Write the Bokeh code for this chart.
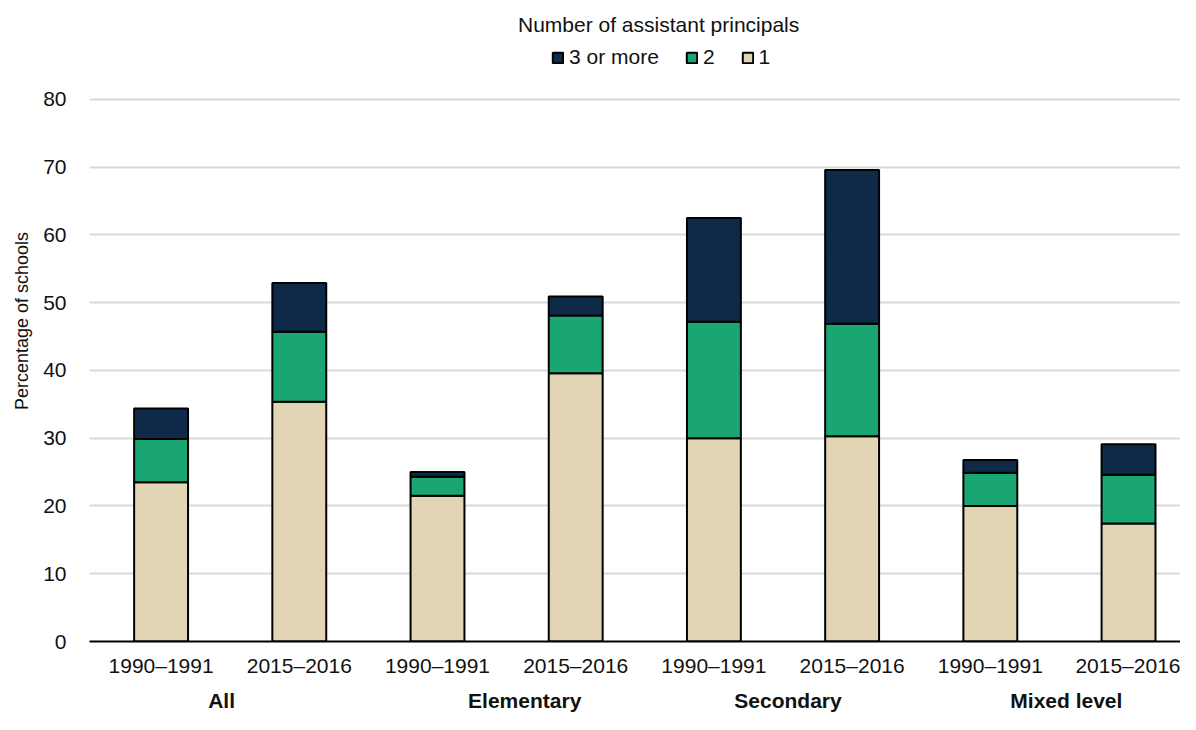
from bokeh.plotting import figure
from bokeh.models import (Range1d, FixedTicker, Legend, LegendItem, Label,
                          LinearAxis, ColumnDataSource, Spacer)
from bokeh.layouts import row
from bokeh.embed import file_html
from bokeh.resources import INLINE

# ---- data ----
periods = ["1990–1991", "2015–2016"] * 4
groups = ["All", "Elementary", "Secondary", "Mixed level"]
series_names = ["1", "2", "3 or more"]
one = [23.5, 35.4, 21.5, 39.6, 30.0, 30.3, 20.0, 17.4]
two = [6.4, 10.3, 2.8, 8.5, 17.2, 16.6, 4.9, 7.2]
three = [4.5, 7.2, 0.7, 2.8, 15.3, 22.7, 1.9, 4.5]
y_ticks = [0, 10, 20, 30, 40, 50, 60, 70, 80]
legend_title = "Number of assistant principals"

# ---- styling / layout constants ----
colors = {"1": "#e1d5b4", "2": "#1aa673", "3 or more": "#0f2a48"}
FONT = "'Liberation Sans', Arial, sans-serif"
TXT = "#111111"
PAD_LEFT = 9
W, H = 1180 - PAD_LEFT, 714
FB_PAGE = 641               # expected frame bottom on the page
Y_TOP = 94.6
PX_PER_UNIT = (FB_PAGE - 1) / Y_TOP
TITLE_Y = (FB_PAGE - 25) / PX_PER_UNIT
GROUP_LABEL_X = [0.438, 2.631, 4.536, 6.55]

xs = list(range(len(periods)))
source = ColumnDataSource(dict(x=xs, s1=one, s2=two, s3=three))

p = figure(width=W, height=H, output_backend="svg", toolbar_location=None,
           x_range=Range1d(-0.518, 7.376), y_range=Range1d(0, Y_TOP),
           min_border_left=0, min_border_right=0, min_border_top=0,
           min_border_bottom=0)

renderers = p.vbar_stack(["s1", "s2", "s3"], x="x", width=0.39, source=source,
                         fill_color=[colors[n] for n in series_names],
                         line_color="black", line_width=2)

p.add_layout(Label(x=3.6, y=TITLE_Y,
                   text=legend_title, text_align="center", text_baseline="alphabetic",
                   text_font=FONT, text_font_size="21px", text_color=TXT))

legend = Legend(items=[LegendItem(label="3 or more", renderers=[renderers[2]]),
                       LegendItem(label="2", renderers=[renderers[1]]),
                       LegendItem(label="1", renderers=[renderers[0]])],
                orientation="horizontal", location=(462, 572),
                glyph_width=13, glyph_height=13, spacing=26,
                label_text_font=FONT, label_text_font_size="21px", label_text_color=TXT,
                label_standoff=5, label_width=0, label_height=24, padding=0, margin=0,
                border_line_color=None, background_fill_alpha=0)
p.add_layout(legend)

p.outline_line_color = None
p.xgrid.grid_line_color = None
p.ygrid.grid_line_color = "#d9d9d9"
p.ygrid.grid_line_width = 2

# y axis
p.yaxis.ticker = FixedTicker(ticks=y_ticks)
p.yaxis.axis_line_color = None
p.yaxis.major_tick_line_color = None
p.yaxis.minor_tick_line_color = None
p.yaxis.major_tick_out = 0
p.yaxis.major_label_text_font = FONT
p.yaxis.major_label_text_font_size = "21px"
p.yaxis.major_label_text_color = TXT
p.yaxis.major_label_standoff = 23
p.yaxis.axis_label = "Percentage of schools"
p.yaxis.axis_label_text_font = FONT
p.yaxis.axis_label_text_font_size = "18px"
p.yaxis.axis_label_text_font_style = "normal"
p.yaxis.axis_label_text_color = TXT
p.yaxis.axis_label_standoff = 8

# x axis: periods
xa = p.xaxis[0]
xa.ticker = FixedTicker(ticks=xs)
xa.major_label_overrides = {x: lab for x, lab in zip(xs, periods)}
xa.axis_line_color = "black"
xa.axis_line_width = 2
xa.major_tick_line_color = None
xa.minor_tick_line_color = None
xa.major_tick_out = 0
xa.major_label_text_font = FONT
xa.major_label_text_font_size = "21px"
xa.major_label_text_color = TXT
xa.major_label_standoff = 12

# x axis: groups
ga = LinearAxis(ticker=FixedTicker(ticks=GROUP_LABEL_X),
                major_label_overrides={g: lab for g, lab in zip(GROUP_LABEL_X, groups)},
                axis_line_color=None, major_tick_line_color=None,
                minor_tick_line_color=None, major_tick_out=0, major_tick_in=0,
                major_label_text_font=FONT, major_label_text_font_size="21px",
                major_label_text_font_style="bold", major_label_text_color=TXT,
                major_label_standoff=9)
p.add_layout(ga, "below")

layout = row(Spacer(width=PAD_LEFT, height=H), p)
open("out.html", "w").write(file_html(layout, INLINE))
